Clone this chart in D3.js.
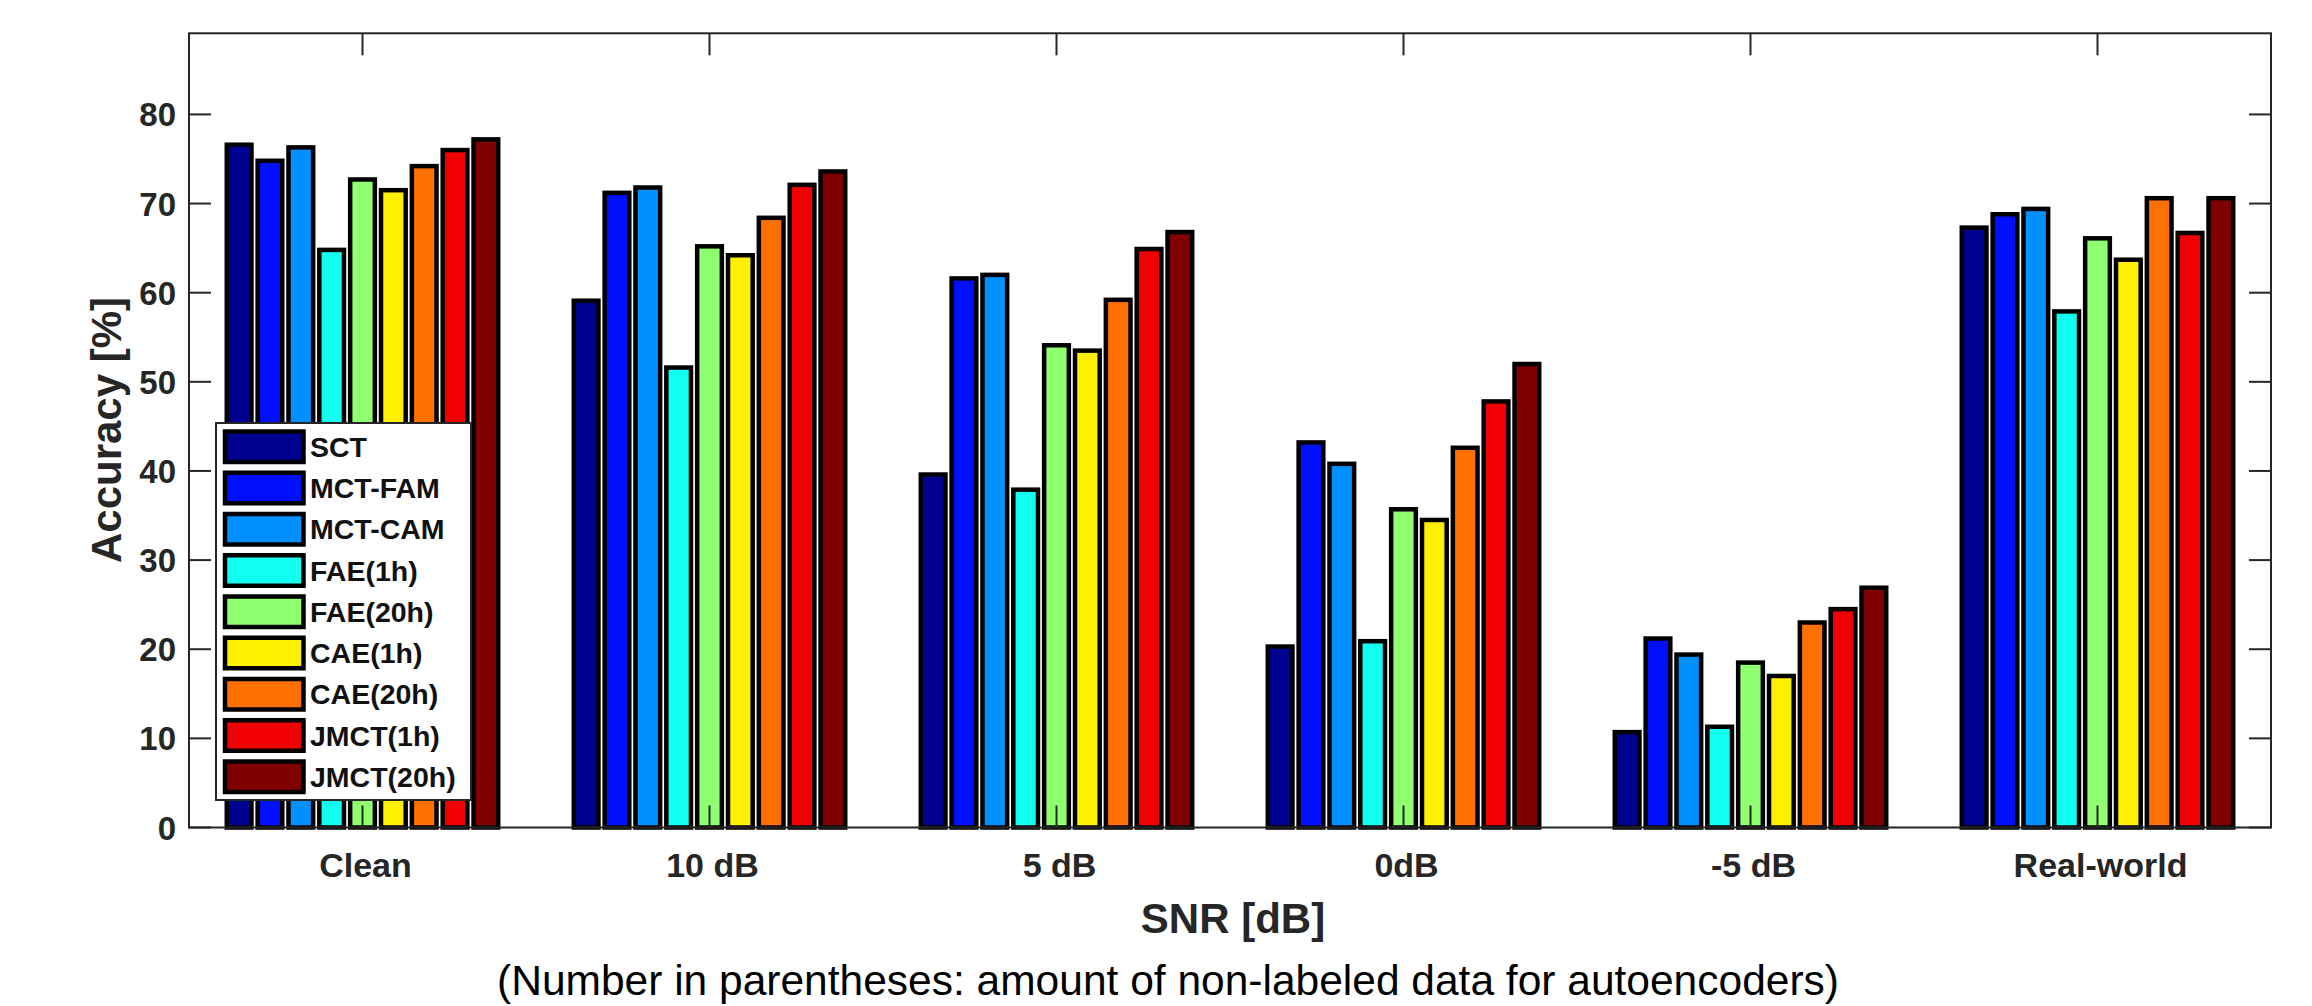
<!DOCTYPE html>
<html>
<head>
<meta charset="utf-8">
<script src="https://cdn.jsdelivr.net/npm/d3@7"></script>
<style>
  body { margin: 0; background: #fff; }
  text { font-family: "Liberation Sans", Arial, sans-serif; }
</style>
</head>
<body>
<div id="chart"></div>
<script>
// categories on the x axis
const categories = ["Clean", "10 dB", "5 dB", "0dB", "-5 dB", "Real-world"];
const seriesNames = [
  "SCT", "MCT-FAM", "MCT-CAM", "FAE(1h)", "FAE(20h)",
  "CAE(1h)", "CAE(20h)", "JMCT(1h)", "JMCT(20h)",
];
const seriesColors = [
  "#000090", "#0010ff", "#0090ff", "#10fff0", "#90ff70",
  "#fff000", "#ff7000", "#f00000", "#800000",
];

// accuracy [%] per method, one value per category
const sct = [76.6, 59.1, 39.6, 20.3, 10.7, 67.3];
const mctFam = [74.8, 71.2, 61.6, 43.2, 21.2, 68.8];
const mctCam = [76.3, 71.8, 62.0, 40.8, 19.4, 69.4];
const fae1h = [64.8, 51.6, 37.9, 20.9, 11.3, 57.9];
const fae20h = [72.7, 65.2, 54.1, 35.7, 18.5, 66.1];
const cae1h = [71.5, 64.2, 53.5, 34.5, 17.0, 63.7];
const cae20h = [74.2, 68.4, 59.2, 42.6, 23.0, 70.6];
const jmct1h = [76.0, 72.1, 64.9, 47.8, 24.5, 66.7];
const jmct20h = [77.2, 73.6, 66.8, 52.0, 26.9, 70.6];

const yTicks = [0, 10, 20, 30, 40, 50, 60, 70, 80];

const seriesValues = [sct, mctFam, mctCam, fae1h, fae20h, cae1h, cae20h, jmct1h, jmct20h];

const width = 2312;
const height = 1006;
const axisColor = "#262626";

const svg = d3
  .select("#chart")
  .append("svg")
  .attr("width", width)
  .attr("height", height);

// x as numeric positions 1..6 like matlab, xlim [0.5 6.5]
const x = d3.scaleLinear().domain([0.5, 6.5]).range([189, 2271]);
const y = d3.scaleLinear().domain([0, 89.1]).range([827.5, 33.3]);

const nSeries = seriesNames.length;
const groupWidth = 0.8;
const barStep = groupWidth / nSeries;
const barWidth = barStep * 0.8;

// bars
seriesValues.forEach((values, j) => {
  const offset = (j - (nSeries - 1) / 2) * barStep;
  svg
    .append("g")
    .selectAll("rect")
    .data(values)
    .enter()
    .append("rect")
    .attr("x", (d, i) => x(i + 1 + offset - barWidth / 2))
    .attr("y", (d) => y(d))
    .attr("width", x(barWidth) - x(0))
    .attr("height", (d) => y(0) - y(d))
    .attr("fill", seriesColors[j])
    .attr("stroke", "#000")
    .attr("stroke-width", 4.5);
});

// box and ticks
const [x0, x1] = x.range();
const [yb, yt] = y.range();
const tickLen = 22;

svg
  .append("rect")
  .attr("x", x0)
  .attr("y", yt)
  .attr("width", x1 - x0)
  .attr("height", yb - yt)
  .attr("fill", "none")
  .attr("stroke", axisColor)
  .attr("stroke-width", 2);

const catIdx = categories.map((c, i) => i + 1);

catIdx.forEach((c) => {
  [[yb, yb - tickLen], [yt, yt + tickLen]].forEach(([a, b]) => {
    svg
      .append("line")
      .attr("x1", x(c))
      .attr("x2", x(c))
      .attr("y1", a)
      .attr("y2", b)
      .attr("stroke", axisColor)
      .attr("stroke-width", 2);
  });
});

yTicks.forEach((t) => {
  [[x0, x0 + tickLen], [x1, x1 - tickLen]].forEach(([a, b]) => {
    svg
      .append("line")
      .attr("x1", a)
      .attr("x2", b)
      .attr("y1", y(t))
      .attr("y2", y(t))
      .attr("stroke", axisColor)
      .attr("stroke-width", 2);
  });
});

// tick labels
svg
  .append("g")
  .selectAll("text")
  .data(yTicks)
  .enter()
  .append("text")
  .attr("x", x0 - 13)
  .attr("y", (d) => y(d) + 12)
  .attr("text-anchor", "end")
  .attr("font-size", 33)
  .attr("font-weight", "bold")
  .attr("fill", axisColor)
  .text((d) => d);

svg
  .append("g")
  .selectAll("text")
  .data(categories)
  .enter()
  .append("text")
  .attr("x", (d, i) => x(i + 1) + 3)
  .attr("y", 877)
  .attr("text-anchor", "middle")
  .attr("font-size", 34)
  .attr("font-weight", "bold")
  .attr("fill", axisColor)
  .text((d) => d);

// axis labels
svg
  .append("text")
  .attr("transform", "translate(121, 430) rotate(-90)")
  .attr("text-anchor", "middle")
  .attr("font-size", 42)
  .attr("font-weight", "bold")
  .attr("fill", axisColor)
  .text("Accuracy [%]");

svg
  .append("text")
  .attr("x", 1233)
  .attr("y", 933)
  .attr("text-anchor", "middle")
  .attr("font-size", 42)
  .attr("font-weight", "bold")
  .attr("fill", axisColor)
  .text("SNR [dB]");

svg
  .append("text")
  .attr("x", 1168)
  .attr("y", 995)
  .attr("text-anchor", "middle")
  .attr("font-size", 42.5)
  .attr("fill", "#000")
  .text("(Number in parentheses: amount of non-labeled data for autoencoders)");

// legend
const legend = svg.append("g");
legend
  .append("rect")
  .attr("x", 216)
  .attr("y", 423)
  .attr("width", 255)
  .attr("height", 377)
  .attr("fill", "#fff")
  .attr("stroke", axisColor)
  .attr("stroke-width", 2);

seriesNames.forEach((name, i) => {
  const top = 431.5 + i * 41.25;
  legend
    .append("rect")
    .attr("x", 225)
    .attr("y", top)
    .attr("width", 78.5)
    .attr("height", 30.5)
    .attr("fill", seriesColors[i])
    .attr("stroke", "#000")
    .attr("stroke-width", 4.5);
  legend
    .append("text")
    .attr("x", 310)
    .attr("y", top + 15.25 + 10)
    .attr("font-size", 28.5)
    .attr("font-weight", "bold")
    .attr("fill", "#111")
    .text(name);
});
</script>
</body>
</html>
